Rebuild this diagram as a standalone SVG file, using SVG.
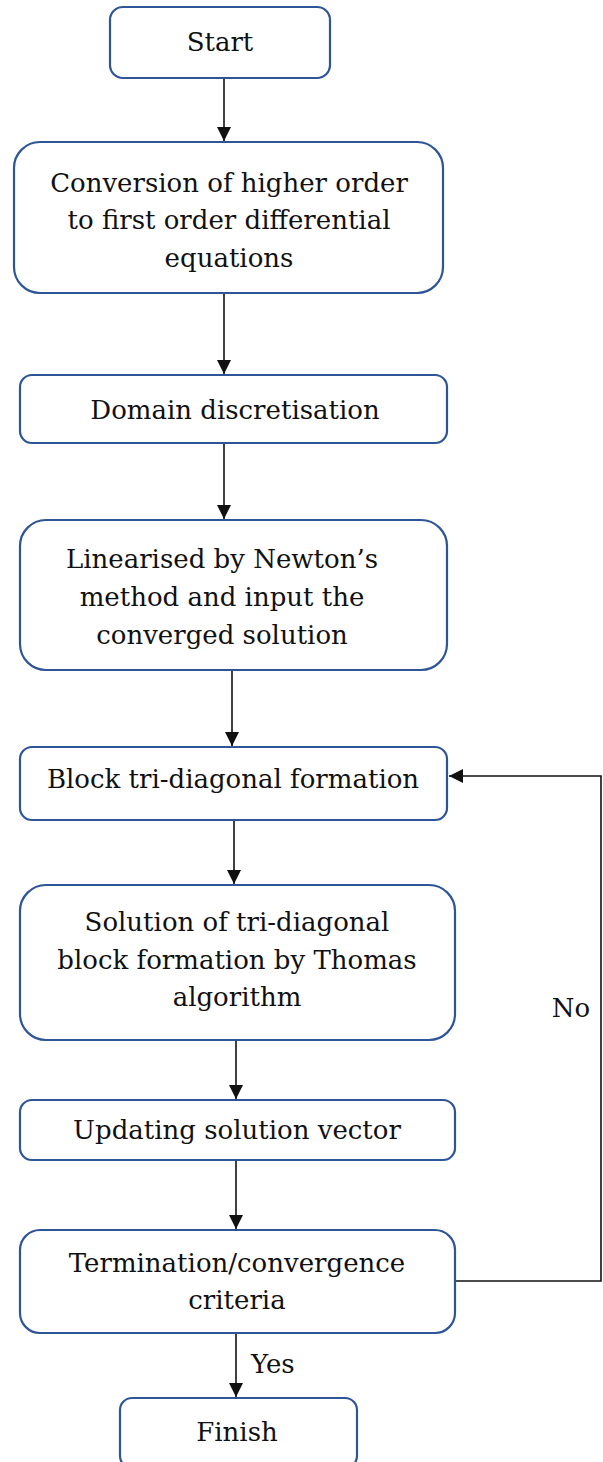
<svg xmlns="http://www.w3.org/2000/svg" width="603" height="1462" viewBox="0 0 603 1462">
<style>
.box{fill:#fff;stroke:#2e5597;stroke-width:2.2}
.t{font-family:'DejaVu Serif','Liberation Serif',serif;font-size:26px;fill:#111;text-anchor:middle}
.c{stroke:#111;stroke-width:1.6;fill:none}
</style>
<defs>
<marker id="ah" viewBox="0 0 10 10" refX="10" refY="5" markerWidth="15" markerHeight="14" markerUnits="userSpaceOnUse" orient="auto">
<path d="M0,0 L10,5 L0,10 z" fill="#111"/>
</marker>
</defs>
<rect width="603" height="1462" fill="#fff"/>
<g id="connectors">
<line class="c" x1="224" y1="79" x2="224" y2="141" marker-end="url(#ah)"/>
<line class="c" x1="224" y1="294" x2="224" y2="374" marker-end="url(#ah)"/>
<line class="c" x1="224" y1="444" x2="224" y2="519" marker-end="url(#ah)"/>
<line class="c" x1="232" y1="671" x2="232" y2="746" marker-end="url(#ah)"/>
<line class="c" x1="234" y1="821" x2="234" y2="884" marker-end="url(#ah)"/>
<line class="c" x1="236" y1="1041" x2="236" y2="1099" marker-end="url(#ah)"/>
<line class="c" x1="236" y1="1161" x2="236" y2="1229" marker-end="url(#ah)"/>
<line class="c" x1="236" y1="1334" x2="236" y2="1397" marker-end="url(#ah)"/>
<polyline class="c" points="456,1281 601,1281 601,776 449,776" marker-end="url(#ah)"/>
<text class="t" x="251" y="1373" style="text-anchor:start">Yes</text>
<text class="t" x="571" y="1017">No</text>
</g>
<g id="start">
<rect class="box" x="110" y="7" width="220" height="71" rx="13"/>
<text class="t" x="220" y="51">Start</text>
</g>
<g id="conversion">
<rect class="box" x="14" y="142" width="429" height="151" rx="26"/>
<text class="t" x="229" y="192">Conversion of higher order</text>
<text class="t" x="229" y="229">to first order differential</text>
<text class="t" x="229" y="267">equations</text>
</g>
<g id="domain">
<rect class="box" x="20" y="375" width="427" height="68" rx="12"/>
<text class="t" x="235" y="419">Domain discretisation</text>
</g>
<g id="linearised">
<rect class="box" x="20" y="520" width="427" height="150" rx="26"/>
<text class="t" x="222" y="568">Linearised by Newton’s</text>
<text class="t" x="222" y="606">method and input the</text>
<text class="t" x="222" y="644">converged solution</text>
</g>
<g id="block">
<rect class="box" x="20" y="747" width="427" height="73" rx="12"/>
<text class="t" x="233" y="788">Block tri-diagonal formation</text>
</g>
<g id="solution">
<rect class="box" x="20" y="885" width="435" height="155" rx="26"/>
<text class="t" x="237" y="931">Solution of tri-diagonal</text>
<text class="t" x="237" y="969">block formation by Thomas</text>
<text class="t" x="237" y="1006">algorithm</text>
</g>
<g id="updating">
<rect class="box" x="20" y="1100" width="435" height="60" rx="12"/>
<text class="t" x="237" y="1139">Updating solution vector</text>
</g>
<g id="termination">
<rect class="box" x="20" y="1230" width="435" height="103" rx="20"/>
<text class="t" x="237" y="1272">Termination/convergence</text>
<text class="t" x="237" y="1309">criteria</text>
</g>
<g id="finish">
<rect class="box" x="120" y="1398" width="237" height="70" rx="12"/>
<text class="t" x="237" y="1441">Finish</text>
</g>
</svg>
